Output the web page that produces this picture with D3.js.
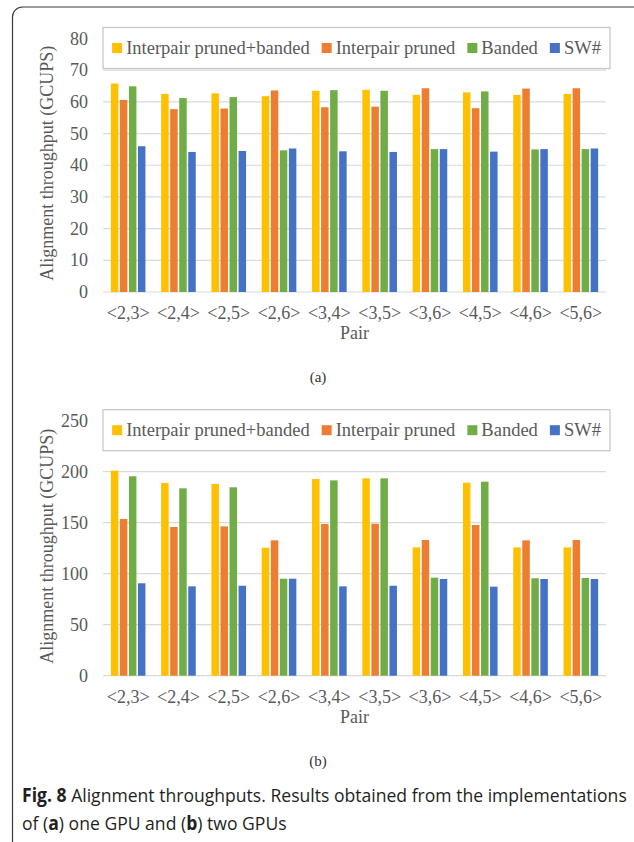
<!DOCTYPE html>
<html>
<head>
<meta charset="utf-8">
<script src="https://cdn.jsdelivr.net/npm/d3@7"></script>
<style>
  body { margin: 0; background: #fff; }
  svg { display: block; }
</style>
</head>
<body>
<svg id="fig" width="634" height="842"></svg>
<script>
// Sequence pairs on the x axis
const pairs = ["<2,3>", "<2,4>", "<2,5>", "<2,6>", "<3,4>", "<3,5>", "<3,6>", "<4,5>", "<4,6>", "<5,6>"];
const seriesNames = ["Interpair pruned+banded", "Interpair pruned", "Banded", "SW#"];
const seriesColors = ["#FFC000", "#ED7D31", "#70AD47", "#4472C4"];

// (a) one GPU, GCUPS
const oneGpuPrunedBanded = [65.8, 62.5, 62.7, 61.8, 63.5, 63.8, 62.2, 63.0, 62.2, 62.5];
const oneGpuPruned       = [60.6, 57.7, 57.9, 63.6, 58.3, 58.5, 64.3, 58.0, 64.2, 64.3];
const oneGpuBanded       = [64.9, 61.2, 61.5, 44.7, 63.7, 63.5, 45.1, 63.3, 45.0, 45.1];
const oneGpuSW           = [46.0, 44.2, 44.5, 45.3, 44.4, 44.2, 45.1, 44.3, 45.1, 45.3];
const oneGpuTicks = [0, 10, 20, 30, 40, 50, 60, 70, 80];

// (b) two GPUs, GCUPS
const twoGpuPrunedBanded = [201.0, 188.9, 187.9, 125.5, 192.8, 193.5, 125.8, 189.2, 125.8, 125.8];
const twoGpuPruned       = [153.6, 145.8, 146.4, 132.7, 148.7, 149.0, 133.0, 147.7, 132.7, 133.0];
const twoGpuBanded       = [195.5, 183.7, 184.7, 95.1, 191.5, 193.5, 96.1, 190.2, 95.5, 95.8];
const twoGpuSW           = [90.6, 87.6, 88.2, 95.1, 87.6, 88.2, 94.8, 87.3, 94.8, 94.8];
const twoGpuTicks = [0, 50, 100, 150, 200, 250];

const yTitle = "Alignment throughput (GCUPS)";
const xTitle = "Pair";
const captionBold = "Fig. 8";
const captionLine1 = " Alignment throughputs. Results obtained from the implementations";

const svg = d3.select("#fig");
const SERIF = "'Liberation Serif', 'Times New Roman', serif";
const INK = "#595959";

// Frame around the figure: left edge and top edge with a rounded corner
svg.append("path")
  .attr("d", "M12.5,842 V17 A10,10 0 0 1 22.5,7 H634")
  .attr("fill", "none")
  .attr("stroke", "#3a3a3a")
  .attr("stroke-width", 1.2);

function drawPanel(cfg) {
  const g = svg.append("g");
  const left = 103, right = 606;

  const x0 = d3.scaleBand().domain(pairs).range([left, right]).padding(0);
  const groupW = x0.bandwidth() * 0.688;
  const x1 = d3.scaleBand().domain(d3.range(seriesNames.length))
    .range([(x0.bandwidth() - groupW) / 2, (x0.bandwidth() + groupW) / 2])
    .paddingInner(0.17).paddingOuter(0);
  const y = d3.scaleLinear().domain([0, d3.max(cfg.ticks)]).range([cfg.base, cfg.top]);

  // gridlines
  g.append("g").selectAll("line").data(cfg.ticks).join("line")
    .attr("x1", left).attr("x2", right)
    .attr("y1", d => y(d)).attr("y2", d => y(d))
    .attr("stroke", "#D9D9D9").attr("stroke-width", 1.2);

  // y tick labels
  g.append("g").selectAll("text").data(cfg.ticks).join("text")
    .attr("x", 88).attr("y", d => y(d))
    .attr("text-anchor", "end").attr("dominant-baseline", "central")
    .attr("font-family", SERIF).attr("font-size", 18).attr("fill", INK)
    .text(d => d);

  // bars
  const rows = pairs.map((p, i) => ({ pair: p, vals: cfg.series.map(s => s[i]) }));
  const grp = g.append("g").selectAll("g").data(rows).join("g")
    .attr("transform", d => `translate(${x0(d.pair)},0)`);
  grp.selectAll("rect").data(d => d.vals.map((v, k) => ({ v, k }))).join("rect")
    .attr("x", d => x1(d.k))
    .attr("width", x1.bandwidth())
    .attr("y", d => y(d.v))
    .attr("height", d => y(0) - y(d.v))
    .attr("fill", d => seriesColors[d.k]);

  // x tick labels
  g.append("g").selectAll("text").data(pairs).join("text")
    .attr("x", d => x0(d) + x0.bandwidth() / 2).attr("y", cfg.base + 21)
    .attr("text-anchor", "middle").attr("dominant-baseline", "central")
    .attr("font-family", SERIF).attr("font-size", 18).attr("fill", INK)
    .text(d => d);

  // axis titles
  g.append("text")
    .attr("x", (left + right) / 2).attr("y", cfg.base + 41)
    .attr("text-anchor", "middle").attr("dominant-baseline", "central")
    .attr("font-family", SERIF).attr("font-size", 18).attr("fill", INK)
    .text(xTitle);
  g.append("text")
    .attr("transform", `translate(47,${(cfg.base + cfg.top) / 2 - 2}) rotate(-90)`)
    .attr("text-anchor", "middle").attr("dominant-baseline", "central")
    .attr("font-family", SERIF).attr("font-size", 18).attr("fill", INK)
    .text(yTitle);

  // legend
  const lg = g.append("g");
  const boxX = 103, boxW = 507, boxY = cfg.top - 11, boxH = 41;
  lg.append("rect")
    .attr("x", boxX).attr("y", boxY).attr("width", boxW).attr("height", boxH)
    .attr("fill", "#fff").attr("stroke", "#C8C8C8").attr("stroke-width", 1.3);
  const items = lg.append("g");
  const mk = 10, gapIn = 4, gapOut = 12;
  let cx = 0;
  seriesNames.forEach((name, k) => {
    const it = items.append("g").attr("transform", `translate(${cx},0)`);
    it.append("rect").attr("x", 0).attr("y", -mk / 2).attr("width", mk).attr("height", mk)
      .attr("fill", seriesColors[k]);
    const t = it.append("text").attr("x", mk + gapIn).attr("y", 0)
      .attr("dominant-baseline", "central")
      .attr("font-family", SERIF).attr("font-size", 18.5).attr("fill", INK)
      .text(name);
    cx += mk + gapIn + t.node().getComputedTextLength() + gapOut;
  });
  const totalW = cx - gapOut;
  items.attr("transform", `translate(${boxX + (boxW - totalW) / 2},${boxY + boxH / 2})`);

  // panel label
  g.append("text")
    .attr("x", 318).attr("y", cfg.base + 85)
    .attr("text-anchor", "middle").attr("dominant-baseline", "central")
    .attr("font-family", SERIF).attr("font-size", 15).attr("fill", "#333")
    .text(cfg.label);
}

drawPanel({
  series: [oneGpuPrunedBanded, oneGpuPruned, oneGpuBanded, oneGpuSW],
  ticks: oneGpuTicks, base: 292, top: 38.5, label: "(a)"
});
drawPanel({
  series: [twoGpuPrunedBanded, twoGpuPruned, twoGpuBanded, twoGpuSW],
  ticks: twoGpuTicks, base: 675.7, top: 420.7, label: "(b)"
});

// Caption
const SANS = "'Open Sans', 'Noto Sans', sans-serif";
const cap = svg.append("g");
const l1 = cap.append("text").attr("x", 0).attr("y", 0)
  .attr("font-family", SANS).attr("font-size", 19).attr("fill", "#231f20");
l1.append("tspan").attr("font-weight", "bold").text(captionBold);
l1.append("tspan").text(captionLine1);
const l2 = cap.append("text").attr("x", 0).attr("y", 28)
  .attr("font-family", SANS).attr("font-size", 19).attr("fill", "#231f20");
l2.append("tspan").text("of (");
l2.append("tspan").attr("font-weight", "bold").text("a");
l2.append("tspan").text(") one GPU and (");
l2.append("tspan").attr("font-weight", "bold").text("b");
l2.append("tspan").text(") two GPUs");
const w1 = l1.node().getComputedTextLength();
const sx = 605 / w1;
cap.attr("transform", `translate(22,802) scale(${sx},1)`);
</script>
</body>
</html>
